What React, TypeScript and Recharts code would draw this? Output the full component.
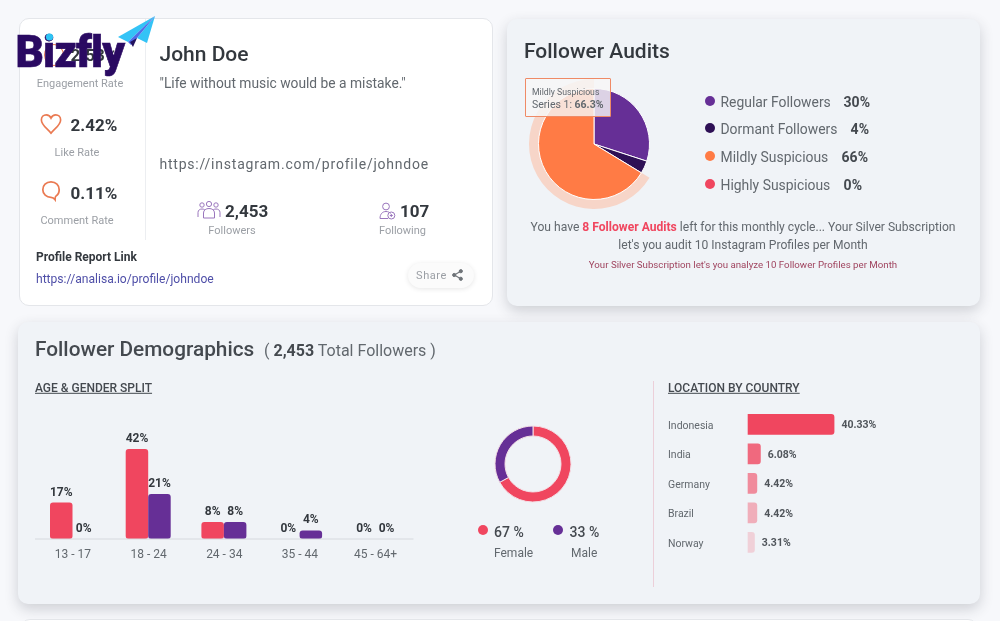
import React from "react";
import { BarChart, Bar, XAxis, YAxis, LabelList, PieChart, Pie, Cell } from "recharts";

const PINK = "#f0465f";
const PURPLE = "#662f96";
const DARK = "#2e1055";
const ORANGE = "#ff7b45";
const INK = "#33383e";
const GREY = "#62686e";
const SOFT = "#9b9fa5";

const auditNames = ["Regular Followers", "Dormant Followers", "Mildly Suspicious", "Highly Suspicious"];
const auditValues = [30, 3.7, 66.3, 0];
const auditLabels = ["30%", "4%", "66%", "0%"];
const auditColors = [PURPLE, DARK, ORANGE, PINK];

const ageGroups = ["13 - 17", "18 - 24", "24 - 34", "35 - 44", "45 - 64+"];
const femaleShare = [17, 42, 8, 0, 0];
const maleShare = [0, 21, 8, 4, 0];

const genderNames = ["Female", "Male"];
const genderValues = [67, 33];
const genderColors = [PINK, PURPLE];

const countries = ["Indonesia", "India", "Germany", "Brazil", "Norway"];
const countryShare = [40.33, 6.08, 4.42, 4.42, 3.31];
const countryOpacity = [1, 0.8, 0.6, 0.4, 0.2];

const auditData = auditNames.map((name, i) => ({ name, value: auditValues[i] }));
const ageData = ageGroups.map((age, i) => ({ age, female: femaleShare[i], male: maleShare[i] }));
const genderData = genderNames.map((name, i) => ({ name, value: genderValues[i] }));
const countryData = countries.map((country, i) => ({ country, share: countryShare[i] }));

type TP = {
  x: number;
  y: number;
  size: number;
  color?: string;
  weight?: number;
  anchor?: "start" | "middle" | "end";
  spacing?: number;
  underline?: boolean;
  stroke?: string;
  children: React.ReactNode;
};

function T({ x, y, size, color = GREY, weight = 400, anchor = "start", spacing, underline, stroke, children }: TP) {
  const shift = anchor === "middle" ? "-50%" : anchor === "end" ? "-100%" : "0";
  return (
    <div
      style={{
        position: "absolute",
        left: x,
        top: y,
        transform: `translate(${shift}, -50%)`,
        fontSize: size,
        lineHeight: 1.2,
        color,
        fontWeight: weight,
        letterSpacing: spacing,
        whiteSpace: "nowrap",
        textDecoration: underline ? "underline" : undefined,
        WebkitTextStroke: stroke,
      }}
    >
      {children}
    </div>
  );
}

function Box({ x, y, w, h, style }: { x: number; y: number; w: number; h: number; style: React.CSSProperties }) {
  return <div style={{ position: "absolute", left: x, top: y, width: w, height: h, boxSizing: "border-box", ...style }} />;
}

function Dot({ x, y, color }: { x: number; y: number; color: string }) {
  return <Box x={x - 5} y={y - 5} w={10} h={10} style={{ borderRadius: "50%", background: color }} />;
}

function Heart() {
  return (
    <svg style={{ position: "absolute", left: 40, top: 113 }} width="22" height="22" viewBox="0 0 24 24">
      <path
        d="M12 22 C8 17 1.5 13 1.5 7.5 C1.5 4 4 2 6.8 2 C9 2 11 3.3 12 5.5 C13 3.3 15 2 17.2 2 C20 2 22.5 4 22.5 7.5 C22.5 13 16 17 12 22 Z"
        fill="none"
        stroke="#ea7a52"
        strokeWidth="1.8"
      />
    </svg>
  );
}

function Bubble({ top }: { top: number }) {
  return (
    <svg style={{ position: "absolute", left: 40.5, top }} width="20" height="22" viewBox="0 0 22 24">
      <path
        d="M11 2 C5.5 2 2 5.8 2 10.5 C2 15.5 6 19 11 19 C12.5 19 14 19.5 15.5 21.5 C15.5 19.5 15.5 18 16.5 17.5 C18.8 16 20 13.5 20 10.5 C20 5.8 16.5 2 11 2 Z"
        fill="none"
        stroke="#ea7a52"
        strokeWidth="1.9"
      />
    </svg>
  );
}

function People() {
  const c = "#9a76bd";
  return (
    <svg style={{ position: "absolute", left: 197, top: 200 }} width="24" height="20" viewBox="0 0 24 20" fill="none" stroke={c} strokeWidth="1">
      <circle cx="12" cy="4" r="2.6" />
      <circle cx="5" cy="5" r="2.2" />
      <circle cx="19" cy="5" r="2.2" />
      <path d="M6.5 18 V13 C6.5 10 9 8.5 12 8.5 C15 8.5 17.5 10 17.5 13 V18 Z" />
      <path d="M1 17 V12.5 C1 10 3 9 5 9 C6 9 7 9.3 7.8 9.8" />
      <path d="M23 17 V12.5 C23 10 21 9 19 9 C18 9 17 9.3 16.2 9.8" />
    </svg>
  );
}

function PersonPlus() {
  const c = "#9a76bd";
  return (
    <svg style={{ position: "absolute", left: 379, top: 202 }} width="17" height="18" viewBox="0 0 17 18" fill="none" stroke={c} strokeWidth="1">
      <circle cx="7" cy="4.5" r="3.4" />
      <path d="M1 16.5 C1 12 3.5 9.5 7 9.5 C9 9.5 10.5 10.2 11.5 11.5" />
      <path d="M1 16.5 H9" />
      <circle cx="12.3" cy="13.5" r="3.5" />
      <path d="M12.3 12 V15 M10.8 13.5 H13.8" />
    </svg>
  );
}

function ShareIcon() {
  return (
    <svg style={{ position: "absolute", left: 452, top: 269 }} width="11" height="12" viewBox="0 0 11 12">
      <g fill="#6f7479" stroke="#6f7479">
        <circle cx="8.8" cy="2.2" r="1.6" />
        <circle cx="2.2" cy="6" r="1.6" />
        <circle cx="8.8" cy="9.8" r="1.6" />
        <path d="M8.8 2.2 L2.2 6 L8.8 9.8" fill="none" strokeWidth="1.1" />
      </g>
    </svg>
  );
}

function Plane() {
  return (
    <svg style={{ position: "absolute", left: 0, top: 0 }} width="170" height="70">
      <polygon points="155,16 118,37 128,42" fill="#34c3f6" />
      <polygon points="155,16 137,38 147,43" fill="#34c3f6" />
      <polygon points="155,16 128,42 131,45 137,38" fill="#4f6be8" />
      <polygon points="130,42 133,47 137,38" fill="#23125e" />
    </svg>
  );
}

function CountryTick({ y, payload }: any) {
  return (
    <text x={0} y={y} dy={4} textAnchor="start" fontSize={10.5} fill={GREY}>
      {payload.value}
    </text>
  );
}

const card: React.CSSProperties = {
  background: "#f0f3f7",
  borderRadius: 10,
  boxShadow: "0 5px 14px rgba(40,45,60,0.2)",
};
const whiteCard: React.CSSProperties = {
  background: "#ffffff",
  borderRadius: 10,
  border: "1px solid #e4e6ea",
};

export default function App() {
  return (
    <div
      style={{
        position: "fixed",
        left: 0,
        top: 0,
        width: 1000,
        height: 621,
        overflow: "hidden",
        background: "#f7f8fb",
        fontFamily: "Roboto, sans-serif",
        filter: "blur(0.35px)",
      }}
    >
      <Box x={19} y={18} w={474} h={288} style={whiteCard} />
      <Box x={507} y={19} w={473} h={287} style={card} />
      <Box x={18} y={322} w={962} h={282} style={card} />
      <Box x={20} y={619} w={958} h={60} style={whiteCard} />

      {/* profile card */}
      <Box x={145} y={19} w={1} h={221} style={{ background: "#eceef1" }} />
      <Box x={44} y={44} w={20} h={22} style={{ borderRadius: "50%", border: "1.7px solid #ea7a52" }} />
      <T x={94} y={55} size={17} weight={700} color={INK} anchor="middle">2.53%</T>
      <T x={80} y={83.5} size={11} color={SOFT} anchor="middle">Engagement Rate</T>
      <Heart />
      <T x={94} y={124.6} size={17} weight={700} color={INK} anchor="middle">2.42%</T>
      <T x={77} y={152.5} size={11} color={SOFT} anchor="middle">Like Rate</T>
      <Bubble top={180} />
      <T x={94} y={192.8} size={17} weight={700} color={INK} anchor="middle">0.11%</T>
      <T x={77} y={220.7} size={11} color={SOFT} anchor="middle">Comment Rate</T>

      <T x={159.5} y={55} size={21} weight={500} color={INK}>John Doe</T>
      <T x={159.5} y={83} size={13.8} color={GREY}>"Life without music would be a mistake."</T>
      <T x={159.5} y={163.5} size={14} color={GREY} spacing={0.78}>https://instagram.com/profile/johndoe</T>
      <People />
      <T x={225} y={211} size={17} weight={700} color={INK}>2,453</T>
      <T x={232} y={231.3} size={11} color={SOFT} anchor="middle">Followers</T>
      <PersonPlus />
      <T x={400} y={211} size={17} weight={700} color={INK}>107</T>
      <T x={402.5} y={231.3} size={11} color={SOFT} anchor="middle">Following</T>
      <T x={36} y={257} size={12} weight={700} color={INK}>Profile Report Link</T>
      <T x={36} y={278.5} size={12.1} color="#4f4fa8">https://analisa.io/profile/johndoe</T>
      <Box x={408} y={263} w={66} h={25} style={{ background: "#fbfbfb", borderRadius: 13, boxShadow: "0 1px 5px rgba(0,0,0,0.1)" }} />
      <T x={416} y={275.5} size={11} color={SOFT} spacing={0.6}>Share</T>
      <ShareIcon />

      {/* audits card */}
      <T x={524} y={51.6} size={21} weight={500} color={INK}>Follower Audits</T>
      <div style={{ position: "absolute", left: 513.5, top: 64.3 }}>
        <PieChart width={160} height={160} margin={{ top: 0, right: 0, bottom: 0, left: 0 }}>
          <Pie
            data={auditData}
            dataKey="value"
            cx={80}
            cy={80}
            outerRadius={65}
            innerRadius={55}
            startAngle={90}
            endAngle={-270}
            stroke="none"
            isAnimationActive={false}
          >
            {auditData.map((d, i) => (
              <Cell key={d.name} fill={auditColors[i] === ORANGE ? "#f7d5c8" : "none"} />
            ))}
          </Pie>
          <Pie
            data={auditData}
            dataKey="value"
            cx={80}
            cy={80}
            outerRadius={55.5}
            startAngle={90}
            endAngle={-270}
            stroke="#ffffff"
            strokeWidth={1}
            isAnimationActive={false}
          >
            {auditData.map((d, i) => (
              <Cell key={d.name} fill={auditColors[i]} />
            ))}
          </Pie>
        </PieChart>
      </div>
      <Box x={525} y={78} w={86} h={39} style={{ border: "1.5px solid #ef8a66", background: "rgba(247,247,247,0.82)", borderRadius: 1 }} />
      <T x={532} y={92} size={8.7} color={GREY}>Mildly Suspicious</T>
      <T x={532} y={104.5} size={10.5} color={GREY}>
        Series 1: <span style={{ fontWeight: 700 }}>66.3%</span>
      </T>
      {auditNames.map((name, i) => {
        const y = 101.5 + i * 27.7;
        const ends = [870, 869, 868, 862];
        return (
          <React.Fragment key={name}>
            <Dot x={709.5} y={y - 1} color={auditColors[i]} />
            <T x={720.5} y={y} size={13.9} color={GREY}>{name}</T>
            <T x={ends[i]} y={y} size={14} weight={700} color={"#44494f"} anchor="end">{auditLabels[i]}</T>
          </React.Fragment>
        );
      })}
      <T x={743} y={226.5} size={12.1} color={GREY} anchor="middle">
        You have <span style={{ color: PINK, fontWeight: 700 }}>8 Follower Audits</span> left for this monthly cycle... Your Silver Subscription
      </T>
      <T x={743} y={244.7} size={12.1} color={GREY} anchor="middle">let's you audit 10 Instagram Profiles per Month</T>
      <T x={743} y={264.5} size={9.7} color="#a04560" anchor="middle">Your Silver Subscription let's you analyze 10 Follower Profiles per Month</T>

      {/* demographics */}
      <T x={35} y={349} size={20.8} weight={500} color="#44494f">Follower Demographics</T>
      <T x={264} y={350.5} size={16} color={GREY}>
        ( <span style={{ fontWeight: 700, color: "#44494f" }}>2,453</span> Total Followers )
      </T>
      <T x={35} y={387.5} size={12} weight={500} color="#44494f" underline>AGE &amp; GENDER SPLIT</T>
      <div style={{ position: "absolute", left: 35, top: 420 }}>
        <BarChart
          width={378.5}
          height={149}
          data={ageData}
          barSize={22.5}
          barGap={0}
          margin={{ top: 12, right: 0, bottom: 0, left: 0 }}
        >
          <XAxis
            dataKey="age"
            height={30}
            tickLine={false}
            axisLine={{ stroke: "#d6d9de" }}
            tick={{ fontSize: 12, fill: GREY }}
            tickMargin={4}
            interval={0}
          />
          <YAxis hide domain={[0, 50]} />
          <Bar dataKey="female" fill={PINK} radius={3} minPointSize={0.01} isAnimationActive={false}>
            <LabelList dataKey="female" position="top" offset={7} fontSize={12} fontWeight={700} fill={INK} formatter={(v: number) => `${v}%`} />
          </Bar>
          <Bar dataKey="male" fill={PURPLE} radius={3} minPointSize={0.01} isAnimationActive={false}>
            <LabelList dataKey="male" position="top" offset={7} fontSize={12} fontWeight={700} fill={INK} formatter={(v: number) => `${v}%`} />
          </Bar>
        </BarChart>
      </div>

      <div style={{ position: "absolute", left: 482.7, top: 413.7 }}>
        <PieChart width={100} height={100} margin={{ top: 0, right: 0, bottom: 0, left: 0 }}>
          <Pie
            data={genderData}
            dataKey="value"
            cx={50}
            cy={50}
            outerRadius={38}
            innerRadius={28}
            startAngle={90}
            endAngle={-270}
            stroke="#f4dfe6"
            strokeWidth={1}
            isAnimationActive={false}
          >
            {genderData.map((d, i) => (
              <Cell key={d.name} fill={genderColors[i]} />
            ))}
          </Pie>
        </PieChart>
      </div>
      <Dot x={482.5} y={530} color={PINK} />
      <T x={494} y={532} size={14} weight={500} color="#44494f">{genderValues[0]} %</T>
      <T x={494} y={553} size={12} color={GREY}>{genderNames[0]}</T>
      <Dot x={558} y={530} color={PURPLE} />
      <T x={569.5} y={532} size={14} weight={500} color="#44494f">{genderValues[1]} %</T>
      <T x={571} y={553} size={12} color={GREY}>{genderNames[1]}</T>

      <Box x={653} y={381} w={1} h={206} style={{ background: "#eccfd9" }} />
      <T x={668} y={387.5} size={12} weight={500} color="#44494f" underline>LOCATION BY COUNTRY</T>
      <div style={{ position: "absolute", left: 668, top: 409.5 }}>
        <BarChart
          width={294.7}
          height={147.5}
          layout="vertical"
          data={countryData}
          barSize={20.7}
          margin={{ top: 0, right: 0, bottom: 0, left: 0 }}
        >
          <XAxis type="number" hide domain={[0, 100]} />
          <YAxis
            type="category"
            dataKey="country"
            width={79.7}
            axisLine={false}
            tickLine={false}
            tick={<CountryTick />}
            interval={0}
          />
          <Bar dataKey="share" fill={PINK} radius={[0, 3, 3, 0]} isAnimationActive={false}>
            {countryData.map((d, i) => (
              <Cell key={d.country} fill={PINK} fillOpacity={countryOpacity[i]} />
            ))}
            <LabelList dataKey="share" position="right" offset={7} fontSize={10.5} fontWeight={700} fill="#50555b" formatter={(v: number) => `${v.toFixed(2)}%`} />
          </Bar>
        </BarChart>
      </div>

      {/* watermark */}
      <Plane />
      <T x={15.5} y={52} size={44} weight={900} color="#2a0a62" spacing={-0.9} stroke="0.6px #2a0a62">Bizfly</T>
      <svg style={{ position: "absolute", left: 0, top: 0 }} width="80" height="60">
        <circle cx="49.5" cy="37" r="3.6" fill="#2ec4f4" />
      </svg>
    </div>
  );
}
